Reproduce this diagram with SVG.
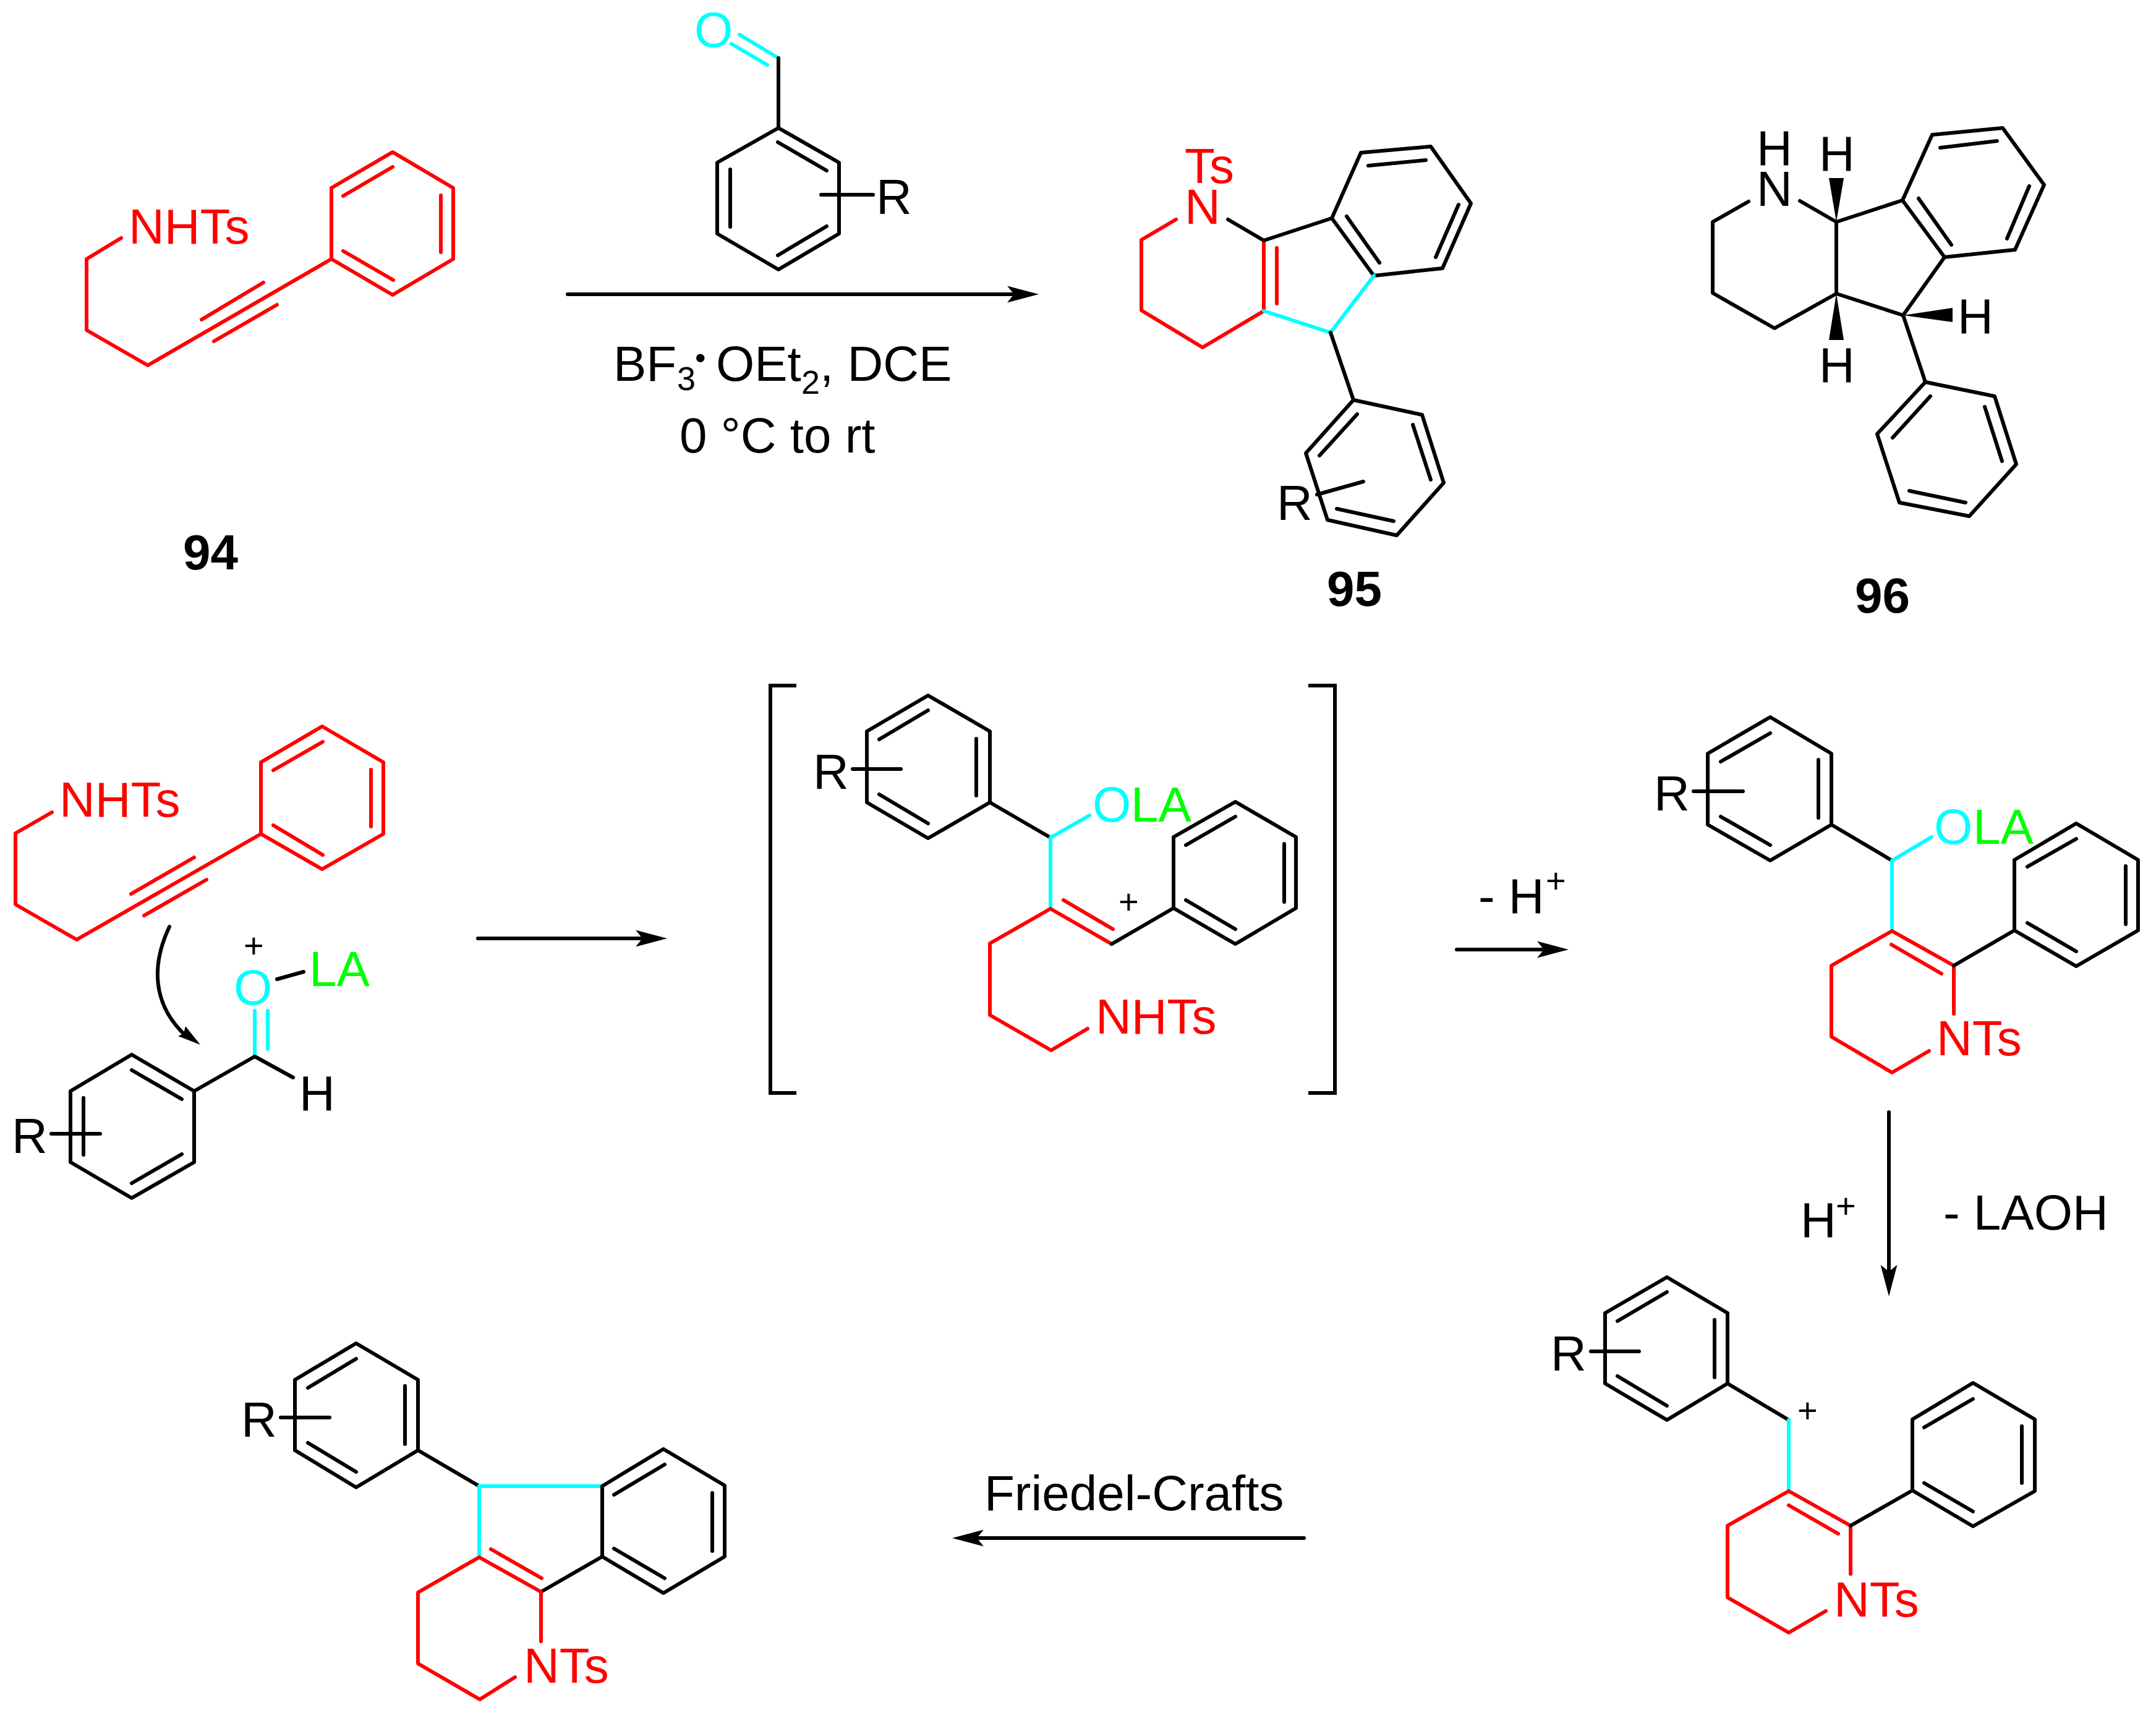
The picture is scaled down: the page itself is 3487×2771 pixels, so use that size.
<svg xmlns="http://www.w3.org/2000/svg" width="3487" height="2771" viewBox="0 0 3487 2771">
<defs>
<style>
.k,.r,.c,.conn{fill:none;stroke-width:6;stroke-linecap:round;stroke-linejoin:round}
.k,.conn{stroke:#000}
.r{stroke:#f00}
.c{stroke:#0ff}
text{font-family:"Liberation Sans",Arial,sans-serif;font-size:80px;fill:#000}
.tr{fill:#f00}
.tc{fill:#0ff}
.tg{fill:#0f0}
.lb{font-weight:bold}
.pl{font-size:56px}
.sb{font-size:54px}
.w{fill:#000;stroke:none}
</style>
<marker id="ah" markerUnits="userSpaceOnUse" markerWidth="54" markerHeight="30" refX="13" refY="14" orient="auto">
<path d="M51 14L0 .5 11 14 0 27.5z" fill="#000"/>
</marker>
</defs>
<rect width="3487" height="2771" fill="#fff"/>

<g id="connectors">
<line class="conn" x1="918" y1="476" x2="1642" y2="476" marker-end="url(#ah)"/>
<line class="conn" x1="773" y1="1518" x2="1041" y2="1518" marker-end="url(#ah)"/>
<line class="conn" x1="2356" y1="1536" x2="2499" y2="1536" marker-end="url(#ah)"/>
<line class="conn" x1="3055" y1="1799" x2="3055" y2="2059" marker-end="url(#ah)"/>
<line class="conn" x1="2109" y1="2488" x2="1578" y2="2488" marker-end="url(#ah)"/>
<path class="conn" d="M274 1499C245 1560 245 1625 302 1677"/>
<polygon class="w" points="324,1690 300,1660 297,1672 288,1676"/>
</g>

<g id="compound-94">
<polygon class="r" points="635,246 733,304 733,419 635,477 536,419 536,304"/>
<path class="r" d="M555 317L635 270M713 316V408M555 406L636 453M536 419L239 591 140 534V419L196 385M326 517L426 457M346 552L448 493"/>
<text class="tr" x="208" y="394">NHTs</text>
<text class="lb" x="296" y="921">94</text>
</g>

<g id="benzaldehyde">
<text class="tc" x="1123" y="76">O</text>
<path class="c" d="M1259 94L1196 56M1241 105L1183 71"/>
<polygon class="k" points="1259,207 1357,263 1357,378 1259,436 1160,378 1160,263"/>
<path class="k" d="M1259 94V207M1258 230L1337 276M1181 274V367M1258 413L1337 366M1328 315H1412"/>
<text x="1417" y="346">R</text>
</g>

<g id="conditions">
<text x="992" y="616">BF<tspan class="sb" x="1095" y="631">3</tspan><tspan style="font-size:50px" x="1124" y="596">•</tspan><tspan x="1158" y="616">OEt</tspan><tspan class="sb" x="1296" y="637">2</tspan><tspan x="1326" y="616">, DCE</tspan></text>
<text x="1099" y="732">0 °C to rt</text>
</g>

<g id="compound-95">
<text class="tr" x="1916" y="296">Ts</text>
<text class="tr" x="1916" y="362">N</text>
<path class="r" d="M1902 355L1846 388V502L1945 562 2044 503V389M2065 401V491"/>
<path class="k" d="M1986 355L2044 389 2154 353"/>
<polygon class="k" points="2154,353 2201,247 2314,237 2379,329 2333,434 2222,446"/>
<path class="k" d="M2213 268L2306 259M2359 331L2322 416M2178 350L2231 425"/>
<path class="c" d="M2222 446L2152 538 2044 503"/>
<path class="k" d="M2152 538L2189 647"/>
<polygon class="k" points="2189,647 2300,671 2335,781 2259,866 2147,841 2112,733"/>
<path class="k" d="M2195 670L2134 737M2285 687L2314 776M2254 843L2162 823M2130 800L2205 779"/>
<text x="2065" y="841">R</text>
<text class="lb" x="2146" y="980">95</text>
</g>

<g id="compound-96">
<text x="2841" y="267">H</text>
<text x="2841" y="333">N</text>
<text x="2942" y="276">H</text>
<text x="2942" y="618">H</text>
<text x="3166" y="539">H</text>
<path class="k" d="M2828 326L2770 359V474L2870 531 2970 475V359M2911 325L2970 359 3077 324"/>
<polygon class="w" points="2970,359 2958,288 2982,288"/>
<polygon class="w" points="2970,475 2958,550 2982,550"/>
<polygon class="w" points="3078,510 3158,498 3158,521"/>
<polygon class="k" points="3077,324 3125,218 3239,207 3306,299 3259,404 3145,416"/>
<path class="k" d="M3138 239L3230 228M3282 301L3246 386M3103 321L3156 396M3145 416L3078 510 2970 475M3078 510L3114 618"/>
<polygon class="k" points="3114,618 3226,641 3261,751 3185,835 3072,813 3036,702"/>
<path class="k" d="M3122 641L3061 708M3210 658L3238 746M3179 813L3088 794"/>
<text class="lb" x="3000" y="991">96</text>
</g>

<g id="alkyne-intermediate">
<polygon class="r" points="521,1175 620,1233 620,1349 521,1406 422,1349 422,1233"/>
<path class="r" d="M442 1246L522 1200M600 1245V1337M442 1335L522 1383M422 1349L124 1520 25 1463V1348L84 1314M212 1446L314 1387M233 1481L334 1423"/>
<text class="tr" x="96" y="1321">NHTs</text>
</g>

<g id="activated-aldehyde">
<text class="pl" x="394" y="1549">+</text>
<text class="tc" x="378" y="1625">O</text>
<text class="tg" x="500" y="1595">LA</text>
<path class="k" d="M448 1584L491 1572"/>
<path class="c" d="M412 1635V1709M433 1635V1697"/>
<path class="k" d="M474 1743L412 1709 314 1765"/>
<text x="484" y="1796">H</text>
<polygon class="k" points="314,1765 213,1706 114,1765 114,1880 213,1938 314,1880"/>
<path class="k" d="M213 1731L294 1778M135 1776V1868M213 1914L294 1867M83 1834H162"/>
<text x="19" y="1865">R</text>
</g>

<g id="bracket-intermediate">
<path class="k" style="stroke-linecap:butt;stroke-linejoin:miter" d="M1288 1109H1246V1768H1288M2116 1109H2159V1768H2116"/>
<polygon class="k" points="1501,1125 1601,1183 1601,1298 1501,1356 1402,1298 1402,1183"/>
<path class="k" d="M1422 1196L1501 1149M1579 1195V1287M1422 1285L1501 1332M1379 1244H1457M1601 1298L1699 1355"/>
<text x="1315" y="1276">R</text>
<path class="c" d="M1762 1319L1699 1355V1470"/>
<text class="tc" x="1767" y="1329">O</text>
<text class="tg" x="1829" y="1329">LA</text>
<path class="r" d="M1798 1527L1699 1470 1601 1526V1642L1700 1699 1759 1664M1720 1456L1800 1503"/>
<text class="tr" x="1772" y="1672">NHTs</text>
<path class="k" d="M1798 1527L1898 1469"/>
<polygon class="k" points="1898,1469 1998,1527 2096,1469 2096,1354 1998,1297 1898,1354"/>
<path class="k" d="M1918 1367L1998 1321M2077 1365V1459M1918 1456L1998 1503"/>
<text class="pl" x="1809" y="1478">+</text>
</g>

<g id="label-minus-h">
<text x="2391" y="1477">- H<tspan class="pl" x="2500" y="1444">+</tspan></text>
</g>

<g id="enamide-carbinol">
<polygon class="k" points="2863,1160 2962,1219 2962,1334 2863,1392 2762,1334 2762,1219"/>
<path class="k" d="M2783 1232L2863 1186M2941 1229V1323M2783 1321L2863 1367M2739 1280H2819M2962 1334L3060 1392"/>
<text x="2675" y="1311">R</text>
<path class="c" d="M3124 1354L3060 1392V1506"/>
<text class="tc" x="3128" y="1365">O</text>
<text class="tg" x="3191" y="1365">LA</text>
<path class="r" d="M3160 1640V1562L3060 1506 2962 1562V1677L3060 1735 3120 1700M3059 1528L3140 1575"/>
<text class="tr" x="3132" y="1707">NTs</text>
<path class="k" d="M3160 1562L3258 1505"/>
<polygon class="k" points="3258,1505 3358,1563 3458,1505 3458,1391 3358,1332 3258,1391"/>
<path class="k" d="M3279 1402L3358 1357M3438 1401V1495M3279 1493L3358 1539"/>
</g>

<g id="label-h-laoh">
<text x="2912" y="2001">H<tspan class="pl" x="2969" y="1970">+</tspan></text>
<text x="3143" y="1989">- LAOH</text>
</g>

<g id="benzylic-cation">
<polygon class="k" points="2696,2066 2794,2124 2794,2238 2696,2297 2596,2238 2596,2124"/>
<path class="k" d="M2616 2137L2696 2090M2773 2135V2228M2616 2226L2696 2274M2573 2186H2651M2794 2238L2893 2297"/>
<text x="2508" y="2217">R</text>
<text class="pl" x="2907" y="2301">+</text>
<path class="c" d="M2893 2297V2412"/>
<path class="r" d="M2993 2546V2468L2893 2412 2794 2468V2584L2893 2641 2953 2606M2893 2435L2973 2481"/>
<text class="tr" x="2966" y="2615">NTs</text>
<path class="k" d="M2993 2468L3093 2411"/>
<polygon class="k" points="3093,2411 3191,2469 3291,2412 3291,2296 3191,2237 3093,2296"/>
<path class="k" d="M3112 2309L3191 2263M3270 2307V2399M3112 2399L3191 2445"/>
</g>

<g id="label-friedel-crafts">
<text x="1592" y="2443">Friedel-Crafts</text>
</g>

<g id="product-final">
<polygon class="k" points="576,2173 676,2232 676,2346 576,2406 477,2346 477,2232"/>
<path class="k" d="M498 2245L576 2198M655 2242V2336M498 2334L576 2381M454 2293H533M676 2346L775 2404"/>
<text x="390" y="2324">R</text>
<path class="c" d="M974 2404H775V2519"/>
<polygon class="k" points="974,2404 1073,2344 1172,2403 1172,2518 1073,2577 974,2518"/>
<path class="k" d="M993 2418L1075 2369M1152 2415V2509M993 2505L1075 2553M974 2518L875 2575"/>
<path class="r" d="M875 2655V2575L775 2519 676 2576V2691L776 2749 833 2713M794 2506L876 2553"/>
<text class="tr" x="847" y="2722">NTs</text>
</g>
</svg>
